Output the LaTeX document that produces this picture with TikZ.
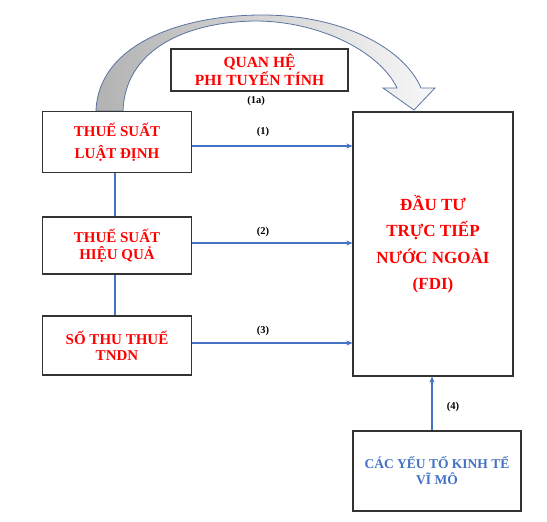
\documentclass[tikz,border=0pt]{standalone}
\usepackage{fontspec}
\setmainfont{Liberation Serif}
\usetikzlibrary{arrows.meta}
\definecolor{tred}{RGB}{255,0,0}
\definecolor{tblue}{RGB}{68,114,196}
\definecolor{arcline}{RGB}{90,115,160}
\tikzset{
  box/.style={draw=black!80, line width=1.1pt, fill=white, align=center, inner sep=2pt},
  redtxt/.style={text=tred},
  conn/.style={draw=tblue, line width=1.2pt},
  arr/.style={conn, -{Stealth[length=6pt,width=5pt]}},
  lbl/.style={font=\bfseries\fontsize{10.5}{12}\selectfont, text=black, inner sep=0pt}
}
\begin{document}
\begin{tikzpicture}[x=1pt,y=-1pt]
\useasboundingbox (0,0) rectangle (547,522);
% curved block arrow
\path[draw=arcline, line width=0.8pt, left color=black!30, right color=black!3]
  (96,111) .. controls (98,45) and (180,15) .. (262,15)
  .. controls (345,15) and (405,50) .. (421,88)
  -- (435,88) -- (414,110) -- (383,88) -- (397,88)
  .. controls (380,52) and (320,21) .. (255,21)
  .. controls (185,22) and (125,50) .. (123,111) -- cycle;
% nodes
\node[box, redtxt, minimum width=177pt, minimum height=42pt, font=\bfseries\fontsize{15.5}{16}\selectfont] (q) at (259.5,70) {QUAN HỆ\\PHI TUYẾN TÍNH};
\node[box, redtxt, minimum width=149pt, minimum height=61pt, font=\bfseries\fontsize{15}{22}\selectfont] (b1) at (117,142) {THUẾ SUẤT\\LUẬT ĐỊNH};
\node[box, redtxt, minimum width=149pt, minimum height=57pt, font=\bfseries\fontsize{15}{17}\selectfont] (b2) at (117,245.5) {THUẾ SUẤT\\HIỆU QUẢ};
\node[box, redtxt, minimum width=149pt, minimum height=59pt, font=\bfseries\fontsize{15}{16}\selectfont] (b3) at (117,345.5) {SỐ THU THUẾ\\TNDN};
\node[box, redtxt, minimum width=160pt, minimum height=264pt, font=\bfseries\fontsize{17}{26.5}\selectfont] (fdi) at (433,244) {ĐẦU TƯ\\TRỰC TIẾP\\NƯỚC NGOÀI\\(FDI)};
\node[box, text=tblue, minimum width=168pt, minimum height=80pt, font=\bfseries\fontsize{13.5}{16}\selectfont] (bot) at (437,471) {CÁC YẾU TỐ KINH TẾ\\VĨ MÔ};
% vertical links
\draw[conn] ([xshift=-2pt]b1.south) -- ([xshift=-2pt]b1.south |- b2.north);
\draw[conn] ([xshift=-2pt]b2.south) -- ([xshift=-2pt]b2.south |- b3.north);
% arrows
\draw[arr] ([yshift=-4pt]b1.east) -- ([yshift=-4pt]b1.east -| fdi.west);
\draw[arr] ([yshift=2.5pt]b2.east) -- ([yshift=2.5pt]b2.east -| fdi.west);
\draw[arr] ([yshift=2.5pt]b3.east) -- ([yshift=2.5pt]b3.east -| fdi.west);
\draw[arr] ([xshift=-1pt]fdi.south |- bot.north) -- ([xshift=-1pt]fdi.south);
% labels
\node[lbl] (l1a) at (256,101) {(1a)};
\node[lbl] (l1) at (263,132) {(1)};
\node[lbl] (l2) at (263,232) {(2)};
\node[lbl] (l3) at (263,331) {(3)};
\node[lbl] (l4) at (453,407) {(4)};
\end{tikzpicture}
\end{document}
